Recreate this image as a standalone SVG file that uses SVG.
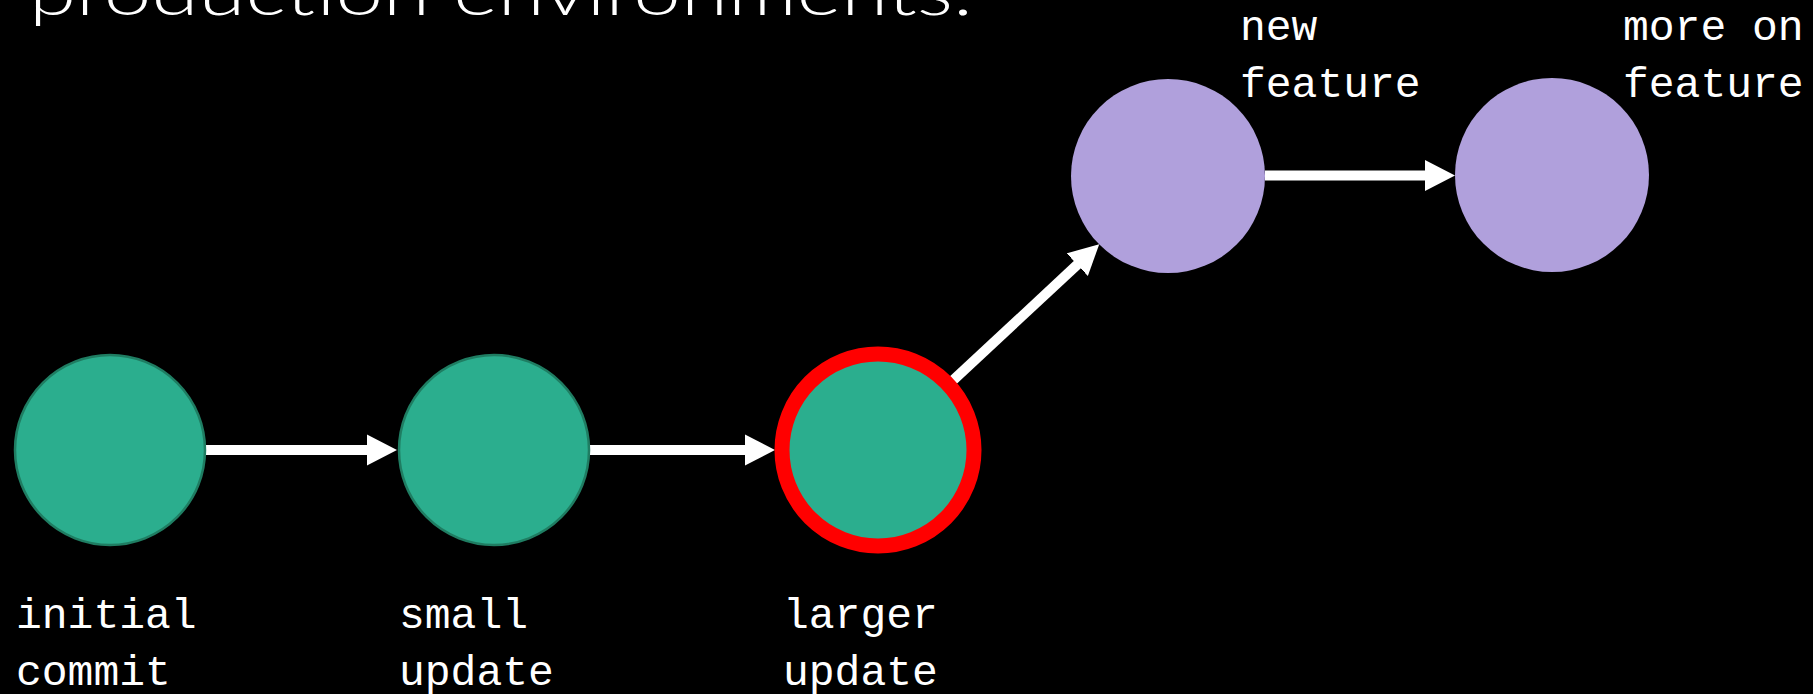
<svg xmlns="http://www.w3.org/2000/svg" width="1813" height="694" viewBox="0 0 1813 694">
<style>
.bg{fill:#000}
.g{fill:#2bae8e;stroke:#1f7d62;stroke-width:2.5}
.p{fill:#b0a0dc}
.hl{fill:#2bae8e;stroke:#ff0000;stroke-width:15}
.lbl{font-family:"Liberation Mono","DejaVu Sans Mono",monospace;font-size:43px;fill:#fff}
.title{font-family:"Lato","Open Sans",sans-serif;font-weight:300;font-size:66px;fill:#fff}
.c{stroke:#fff;stroke-width:10;fill:none}
</style>
<defs>
<marker id="ah" markerUnits="userSpaceOnUse" markerWidth="32" markerHeight="32" refX="1" refY="16" orient="auto">
<path d="M0,0.5 L30,16 L0,31.5 Z" fill="#fff"/>
</marker>
</defs>
<rect class="bg" x="0" y="0" width="1813" height="694"/>
<text class="title" x="29" y="15" textLength="944" lengthAdjust="spacingAndGlyphs">production environments.</text>
<g id="connectors">
<line class="c" x1="205" y1="450" x2="368" y2="450" marker-end="url(#ah)"/>
<line class="c" x1="590" y1="450" x2="746" y2="450" marker-end="url(#ah)"/>
<line class="c" x1="948" y1="385" x2="1078" y2="264" marker-end="url(#ah)"/>
<line class="c" x1="1265" y1="175.5" x2="1426" y2="175.5" marker-end="url(#ah)"/>
</g>
<g id="initial-commit">
<circle class="g" cx="110" cy="450" r="95"/>
<text class="lbl" x="16" y="628">initial</text>
<text class="lbl" x="16" y="685">commit</text>
</g>
<g id="small-update">
<circle class="g" cx="494" cy="450" r="95"/>
<text class="lbl" x="399" y="628">small</text>
<text class="lbl" x="399" y="685">update</text>
</g>
<g id="larger-update">
<circle class="hl" cx="878" cy="450" r="96"/>
<text class="lbl" x="783" y="628">larger</text>
<text class="lbl" x="783" y="685">update</text>
</g>
<g id="new-feature">
<circle class="p" cx="1168" cy="176" r="97"/>
<text class="lbl" x="1240" y="40">new</text>
<text class="lbl" x="1240" y="97">feature</text>
</g>
<g id="more-on-feature">
<circle class="p" cx="1552" cy="175" r="97"/>
<text class="lbl" x="1623" y="40">more on</text>
<text class="lbl" x="1623" y="97">feature</text>
</g>
</svg>
